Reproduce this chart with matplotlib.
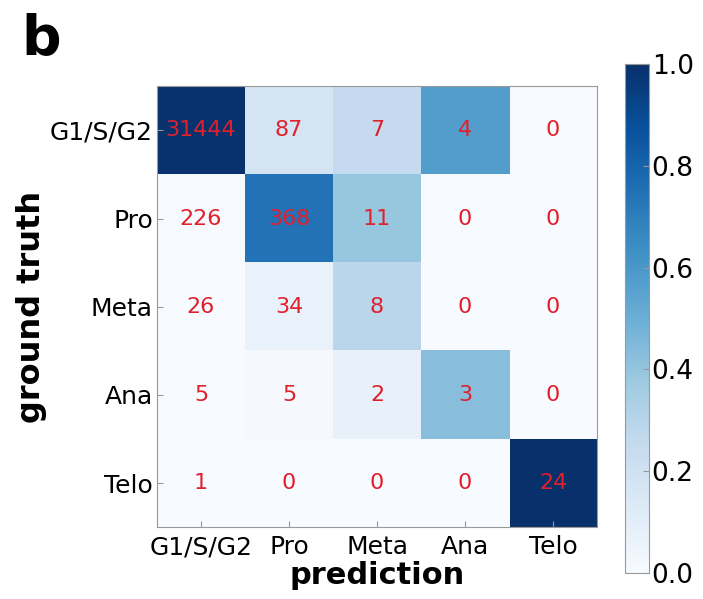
import numpy as np
import matplotlib.pyplot as plt
from matplotlib.colors import Normalize
from matplotlib.cm import ScalarMappable

classes = ["G1/S/G2", "Pro", "Meta", "Ana", "Telo"]
# rows = ground truth, cols = prediction
counts = np.array([
    [31444, 87, 7, 4, 0],
    [226, 368, 11, 0, 0],
    [26, 34, 8, 0, 0],
    [5, 5, 2, 3, 0],
    [1, 0, 0, 0, 24],
])

# colour is normalised per prediction column
frac = counts / counts.sum(axis=0, keepdims=True)

fig = plt.figure(figsize=(7.03, 5.99), dpi=100)
ax = fig.add_axes([0.2233, 0.120, 0.626, 0.736])
cax = fig.add_axes([0.889, 0.0434, 0.034, 0.85])

im = ax.imshow(frac, cmap="Blues", vmin=0, vmax=1, aspect="auto",
               interpolation="nearest")
for i in range(len(classes)):
    for j in range(len(classes)):
        ax.text(j, i, str(counts[i, j]), ha="center", va="center",
                color="#e0202c", fontsize=16)

n = np.arange(len(classes))
ax.set_xticks(n)
ax.set_yticks(n)
ax.set_xticklabels(classes, fontsize=18)
ax.set_yticklabels(classes, fontsize=18)
ax.tick_params(direction="in", length=4, color="#999999")
ax.tick_params(axis="x", pad=6)
ax.tick_params(axis="y", pad=3)
for s in ax.spines.values():
    s.set_color("#999999")
ax.set_xlabel("prediction", fontsize=22, fontweight="bold", labelpad=1)
ax.set_ylabel("ground truth", fontsize=23, fontweight="bold", labelpad=2)

cb = fig.colorbar(ScalarMappable(norm=Normalize(0, 1), cmap="Blues"), cax=cax)
cb.set_ticks([0, 0.2, 0.4, 0.6, 0.8, 1.0])
cb.ax.tick_params(labelsize=19, direction="in", length=4, color="#999999", pad=2)
cb.outline.set_edgecolor("#999999")

fig.text(0.03, 0.91, "b", fontsize=40, fontweight="bold")

fig.savefig("out.png", dpi=100)
